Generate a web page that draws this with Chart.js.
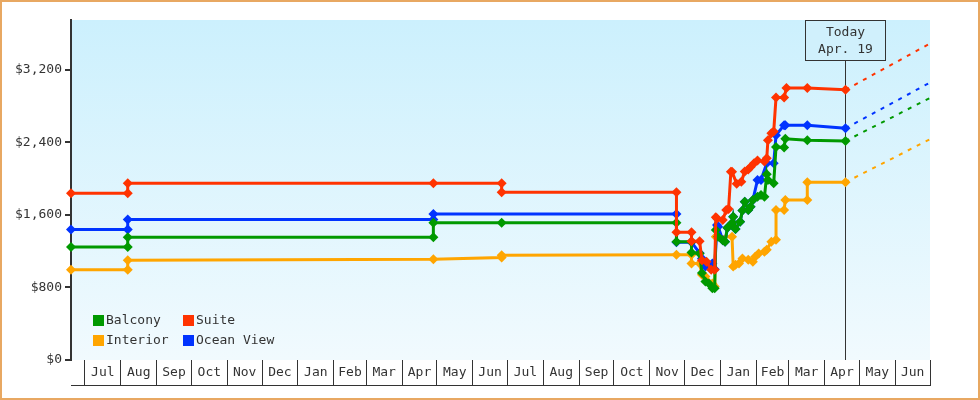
<!DOCTYPE html>
<html><head><meta charset="utf-8">
<script src="https://cdn.jsdelivr.net/npm/chart.js@4.4.1/dist/chart.umd.min.js"></script>
<style>html,body{margin:0;padding:0;background:#fff}canvas{display:block}</style>
</head><body>
<canvas id="c" width="980" height="400"></canvas>
<script>
// ---------- data ----------
const rangeStart = '2017-06-19';
const rangeEnd = '2019-07-01';
const todayDate = '2019-04-19';
const todayLabel = ['Today', 'Apr. 19'];
const monthLabels = ['Jul','Aug','Sep','Oct','Nov','Dec','Jan','Feb','Mar','Apr','May','Jun',
                     'Jul','Aug','Sep','Oct','Nov','Dec','Jan','Feb','Mar','Apr','May','Jun'];
const yTickValues = [0, 800, 1600, 2400, 3200];
const seriesNames = ['Suite', 'Balcony', 'Ocean View', 'Interior'];
const seriesColors = ['#ff3300', '#009900', '#0033ff', '#ffa500'];
const legendOrder = ['Balcony', 'Suite', 'Interior', 'Ocean View'];

const suiteDates = ['2017-06-19','2017-08-07','2017-08-07','2018-04-28','2018-06-26','2018-06-26','2018-11-24','2018-11-24','2018-12-07','2018-12-07','2018-12-14','2018-12-16','2018-12-20','2018-12-24','2018-12-27','2018-12-28','2018-12-29','2019-01-03','2019-01-06','2019-01-08','2019-01-10','2019-01-11','2019-01-15','2019-01-19','2019-01-22','2019-01-25','2019-01-27','2019-01-30','2019-02-02','2019-02-08','2019-02-10','2019-02-11','2019-02-14','2019-02-16','2019-02-18','2019-02-25','2019-02-27','2019-03-17','2019-04-19'];
const suiteValues = [1840,1840,1950,1950,1950,1850,1850,1410,1410,1310,1310,1100,1085,995,995,1575,1560,1545,1655,1665,2075,2075,1945,1965,2080,2100,2130,2170,2200,2190,2225,2425,2500,2520,2895,2895,3000,3000,2980];

const balconyDates = ['2017-06-19','2017-08-07','2017-08-07','2018-04-28','2018-04-28','2018-06-26','2018-11-24','2018-11-24','2018-12-07','2018-12-07','2018-12-14','2018-12-16','2018-12-19','2018-12-22','2018-12-25','2018-12-27','2018-12-28','2018-12-30','2019-01-03','2019-01-05','2019-01-07','2019-01-11','2019-01-12','2019-01-14','2019-01-18','2019-01-20','2019-01-22','2019-01-25','2019-01-27','2019-01-29','2019-02-02','2019-02-05','2019-02-08','2019-02-10','2019-02-11','2019-02-16','2019-02-18','2019-02-25','2019-02-26','2019-03-17','2019-04-19'];
const balconyValues = [1245,1245,1355,1355,1515,1515,1515,1305,1305,1185,1175,960,865,845,790,790,1435,1360,1320,1305,1460,1510,1580,1445,1525,1650,1745,1655,1690,1765,1800,1820,1800,2050,1985,1950,2350,2345,2440,2425,2415];

const oceanDates = ['2017-06-19','2017-08-07','2017-08-07','2018-04-28','2018-04-28','2018-11-24','2018-11-24','2018-12-07','2018-12-14','2018-12-16','2018-12-19','2018-12-25','2018-12-27','2018-12-29','2018-12-30','2019-01-03','2019-01-05','2019-01-07','2019-01-11','2019-01-12','2019-01-14','2019-01-18','2019-01-20','2019-01-22','2019-01-25','2019-01-27','2019-01-29','2019-02-02','2019-02-05','2019-02-10','2019-02-16','2019-02-18','2019-02-25','2019-02-26','2019-03-17','2019-04-19'];
const oceanValues = [1440,1440,1550,1550,1610,1610,1300,1300,1180,1120,1030,1065,1000,1490,1470,1320,1305,1460,1510,1580,1445,1525,1650,1745,1655,1690,1765,1985,1985,2170,2170,2480,2590,2590,2590,2555];

const interiorDates = ['2017-06-19','2017-08-07','2017-08-07','2018-04-28','2018-06-26','2018-06-26','2018-11-24','2018-12-07','2018-12-07','2018-12-14','2018-12-16','2018-12-19','2018-12-25','2018-12-27','2018-12-28','2019-01-11','2019-01-12','2019-01-14','2019-01-17','2019-01-20','2019-01-25','2019-01-29','2019-01-31','2019-02-03','2019-02-08','2019-02-10','2019-02-14','2019-02-18','2019-02-18','2019-02-25','2019-02-26','2019-03-17','2019-03-17','2019-04-19'];
const interiorValues = [995,995,1100,1110,1130,1155,1160,1160,1065,1065,940,920,845,810,1360,1360,1030,1050,1065,1120,1105,1085,1140,1175,1195,1215,1305,1325,1655,1655,1765,1765,1960,1960];

const projectionDates = ['2019-04-19', '2019-07-01'];
const suiteProjection = [2980, 3490];
const balconyProjection = [2415, 2890];
const oceanProjection = [2555, 3060];
const interiorProjection = [1960, 2435];

// ---------- helpers ----------
const FONT = "'DejaVu Sans Mono', monospace";
const INK = '#333333';
function day(s) { const [y, m, d] = s.split('-').map(Number); return Date.UTC(y, m - 1, d) / 86400000; }
function pts(dates, vals) { return dates.map((d, i) => ({ x: day(d), y: vals[i] })); }

const xMin = day(rangeStart), xMax = day(rangeEnd);
const monthStarts = [];
for (let i = 0; i <= monthLabels.length; i++) {
  const y = 2017 + Math.floor((6 + i) / 12), m = (6 + i) % 12;
  monthStarts.push(Date.UTC(y, m, 1) / 86400000);
}
const monthMids = monthLabels.map((_, i) => (monthStarts[i] + monthStarts[i + 1]) / 2);

const solid = [
  [suiteDates, suiteValues], [balconyDates, balconyValues],
  [oceanDates, oceanValues], [interiorDates, interiorValues]
];
const proj = [suiteProjection, balconyProjection, oceanProjection, interiorProjection];

const datasets = [];
solid.forEach(([d, v], i) => datasets.push({
  label: seriesNames[i], data: pts(d, v),
  borderColor: seriesColors[i], backgroundColor: seriesColors[i],
  borderWidth: 3, pointStyle: 'rectRot', pointRadius: 5, pointBorderWidth: 0,
  pointBorderColor: seriesColors[i], pointBackgroundColor: seriesColors[i],
  tension: 0, clip: false, order: i
}));
proj.forEach((v, i) => datasets.push({
  label: seriesNames[i] + ' forecast', data: pts(projectionDates, v),
  borderColor: seriesColors[i], borderWidth: 2, borderDash: [4, 6],
  pointRadius: 0, tension: 0, clip: false, order: 10 + i
}));

// ---------- plugins ----------
const frame = {
  id: 'frame',
  beforeDraw(chart) {
    const { ctx, chartArea: a } = chart;
    ctx.save();
    ctx.fillStyle = '#ffffff';
    ctx.fillRect(0, 0, chart.width, chart.height);
    const g = ctx.createLinearGradient(0, a.top, 0, a.bottom);
    g.addColorStop(0, '#ccf0fd');
    g.addColorStop(1, '#f1fafe');
    ctx.fillStyle = g;
    ctx.fillRect(a.left, a.top, a.right - a.left, a.bottom - a.top);
    ctx.restore();
  },
  afterDraw(chart) {
    const ctx = chart.ctx;
    ctx.save();
    ctx.strokeStyle = '#e8a862';
    ctx.lineWidth = 2;
    ctx.strokeRect(1, 1, chart.width - 2, chart.height - 2);
    ctx.restore();
  }
};

const today = {
  id: 'today',
  beforeDatasetsDraw(chart) {
    const { ctx, chartArea: a } = chart;
    const x = Math.round(chart.scales.x.getPixelForValue(day(todayDate))) + 0.5;
    ctx.save();
    ctx.strokeStyle = INK; ctx.lineWidth = 1;
    ctx.beginPath(); ctx.moveTo(x, a.top + 40); ctx.lineTo(x, a.bottom); ctx.stroke();
    ctx.restore();
  },
  afterDatasetsDraw(chart) {
    const { ctx, chartArea: a } = chart;
    const x = Math.round(chart.scales.x.getPixelForValue(day(todayDate))) + 0.5;
    const w = 80, h = 40, top = a.top + 0.5;
    ctx.save();
    ctx.fillStyle = '#d0f0fc';
    ctx.fillRect(x - w / 2, top, w, h);
    ctx.strokeStyle = INK; ctx.lineWidth = 1;
    ctx.strokeRect(x - w / 2, top, w, h);
    ctx.fillStyle = INK;
    ctx.font = '13px ' + FONT;
    ctx.textAlign = 'center'; ctx.textBaseline = 'middle';
    ctx.fillText(todayLabel[0], x, top + 12);
    ctx.fillText(todayLabel[1], x, top + 29);
    ctx.restore();
  }
};

const legend = {
  id: 'cornerLegend',
  afterDatasetsDraw(chart) {
    const { ctx, chartArea: a } = chart;
    ctx.save();
    ctx.font = '13px ' + FONT;
    ctx.textBaseline = 'middle'; ctx.textAlign = 'left';
    legendOrder.forEach((name, k) => {
      const col = k % 2, row = Math.floor(k / 2);
      const x = a.left + 22 + col * 90;
      const y = a.bottom - 45 + row * 20;
      ctx.fillStyle = seriesColors[seriesNames.indexOf(name)];
      ctx.fillRect(x, y, 11, 11);
      ctx.fillStyle = INK;
      ctx.fillText(name, x + 13, y + 6);
    });
    ctx.restore();
  }
};

// ---------- chart ----------
new Chart(document.getElementById('c'), {
  type: 'line',
  data: { datasets },
  options: {
    responsive: false, animation: false, devicePixelRatio: 1,
    layout: { padding: { top: 20, right: 50, bottom: 15, left: 0 } },
    plugins: { legend: { display: false }, tooltip: { enabled: false } },
    scales: {
      x: {
        type: 'linear', position: 'bottom', min: xMin, max: xMax, weight: 0,
        afterBuildTicks: s => { s.ticks = monthStarts.map(v => ({ value: v })); },
        afterFit: s => { s.height = 0; },
        ticks: { display: false },
        grid: { drawOnChartArea: false, drawTicks: true, tickLength: 25, color: INK, lineWidth: 1 },
        border: { display: false }
      },
      xl: {
        type: 'linear', position: 'bottom', min: xMin, max: xMax, weight: 1,
        afterBuildTicks: s => { s.ticks = monthMids.map(v => ({ value: v })); },
        afterFit: s => { s.height = 25; },
        ticks: {
          autoSkip: false, maxRotation: 0, minRotation: 0, padding: 5,
          color: INK, font: { family: FONT, size: 13 },
          callback: (v, i) => monthLabels[i]
        },
        grid: { display: false, drawTicks: false },
        border: { display: false }
      },
      xb: {
        type: 'linear', position: 'bottom', min: xMin, max: xMax, weight: 2,
        afterFit: s => { s.height = 0; },
        ticks: { display: false },
        grid: { display: false, drawTicks: false },
        border: { display: true, color: INK, width: 1 }
      },
      y: {
        type: 'linear', position: 'left', min: 0, max: 3750,
        afterBuildTicks: s => { s.ticks = yTickValues.map(v => ({ value: v })); },
        afterFit: s => { s.width = 71; },
        ticks: {
          padding: 3, color: INK, font: { family: FONT, size: 13 },
          callback: v => '$' + Number(v).toLocaleString('en-US')
        },
        grid: { drawOnChartArea: false, drawTicks: true, tickLength: 6, color: INK, lineWidth: 2 },
        border: { display: true, color: INK, width: 2 }
      }
    }
  },
  plugins: [frame, today, legend]
});
</script>
</body></html>
